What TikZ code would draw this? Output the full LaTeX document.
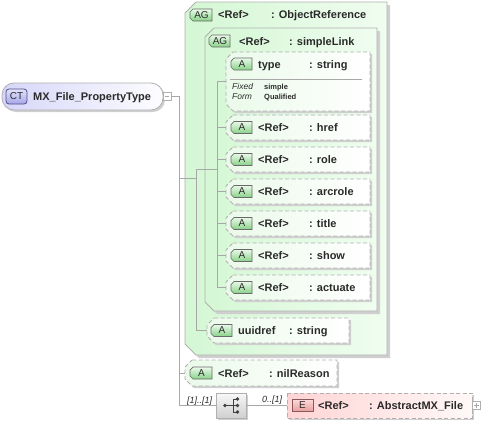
\documentclass[tikz,border=0pt]{standalone}
\usepackage{fontspec}
\setmainfont{Liberation Sans}
\usetikzlibrary{calc}
\definecolor{lineC}{HTML}{A8A8A8}
\definecolor{bordC}{HTML}{B0B0B0}
\definecolor{shadC}{HTML}{CFCFCF}
\definecolor{txtC}{HTML}{2A2A2A}
\definecolor{grpL}{HTML}{D4F7D4}
\definecolor{grpR}{HTML}{F0FDF0}
\definecolor{attL}{HTML}{EAFAEA}
\definecolor{badgeT}{HTML}{EAF9EA}
\definecolor{badgeB}{HTML}{88D288}
\definecolor{badgeD}{HTML}{6A6A6A}
\definecolor{elL}{HTML}{FFD4D4}
\definecolor{elR}{HTML}{FFF8F8}
\definecolor{ebT}{HTML}{FCD8D8}
\definecolor{ebB}{HTML}{E89C9C}
\definecolor{ebD}{HTML}{8A5A5A}
\definecolor{ctL}{HTML}{D6D6FA}
\definecolor{ctR}{HTML}{FDFDFF}
\definecolor{ctbT}{HTML}{E2E2FC}
\definecolor{ctbB}{HTML}{A6A6EA}
\definecolor{ctbD}{HTML}{505080}
\definecolor{seqT}{HTML}{F8F8F8}
\definecolor{seqB}{HTML}{CFCFCF}

\tikzset{
  conn/.style={draw=lineC, line width=0.8pt},
  lbl/.style={anchor=base west, inner sep=0pt, font=\fontsize{11}{13}\selectfont\bfseries, text=txtC},
  smallb/.style={anchor=base west, inner sep=0pt, font=\fontsize{7.5}{9}\selectfont\bfseries, text=txtC},
  smallit/.style={anchor=base west, inner sep=0pt, font=\fontsize{8.5}{10}\selectfont\itshape, text=txtC},
  card/.style={anchor=base west, inner sep=0pt, font=\fontsize{9}{10}\selectfont\itshape, text=txtC},
  badgetxt/.style={inner sep=0pt, font=\fontsize{10}{12}\selectfont, text=txtC},
  hold/.style={draw=none, inner sep=0pt, outer sep=0pt, rectangle},
  dashbox/.style={draw=bordC, line width=0.8pt, dash pattern=on 4pt off 2.5pt},
}

% group box: name x1 y1 x2 y2 chamfer
\newcommand\grpbox[6]{%
  \path[fill=shadC, shift={(3,3)}] ({#2+#6},#3) -- (#4,#3) -- (#4,#5) -- ({#2+#6},#5) -- (#2,{#5-#6}) -- (#2,{#3+#6}) -- cycle;
  \path[left color=grpL, right color=grpR, draw=bordC, line width=0.8pt] ({#2+#6},#3) -- (#4,#3) -- (#4,#5) -- ({#2+#6},#5) -- (#2,{#5-#6}) -- (#2,{#3+#6}) -- cycle;
  \node[hold, minimum width={(#4-#2)*1pt}, minimum height={(#5-#3)*1pt}] (#1) at ({(#2+#4)/2},{(#3+#5)/2}) {};
}
% attribute box: name x1 y1 x2 y2
\newcommand\attrbox[5]{%
  \path[fill=shadC, shift={(2,2)}] ({#2+7},#3) -- (#4,#3) -- (#4,#5) -- ({#2+7},#5) -- (#2,{#5-7}) -- (#2,{#3+7}) -- cycle;
  \path[left color=attL, right color=white, dashbox] ({#2+7},#3) -- (#4,#3) -- (#4,#5) -- ({#2+7},#5) -- (#2,{#5-7}) -- (#2,{#3+7}) -- cycle;
  \node[hold, minimum width={(#4-#2)*1pt}, minimum height={(#5-#3)*1pt}] (#1) at ({(#2+#4)/2},{(#3+#5)/2}) {};
}
% badge: name x1 y1 x2 y2 text topcolor bottomcolor drawcolor
\newcommand\badge[9]{%
  \path[top color=#7, bottom color=#8, draw=#9, line width=0.7pt] ({#2+3},#3) -- (#4,#3) -- (#4,#5) -- ({#2+3},#5) -- (#2,{#5-3}) -- (#2,{#3+3}) -- cycle;
  \node[badgetxt] (#1) at ({(#2+#4)/2+0.5},{(#3+#5)/2}) {#6};
}

\begin{document}
\begin{tikzpicture}[x=1pt,y=-1pt]
\useasboundingbox (0,0) rectangle (481,423);

% ---------- complex type ----------
\path[fill=shadC, rounded corners=12pt] (4,85) rectangle (165,112);
\path[left color=ctL, right color=ctR, draw=bordC, line width=0.8pt, rounded corners=12pt] (2,83) rectangle (163,110);
\node[hold, minimum width=161pt, minimum height=27pt] (ct) at (82.5,96.5) {};
\path[top color=ctbT, bottom color=ctbB, draw=ctbD, line width=0.8pt, rounded corners=3pt] (6,89) rectangle (27,104);
\node[badgetxt] (ctbadge) at (16.5,96.5) {CT};
\node[lbl] (ctname) at (33,100.5) {MX\_File\_PropertyType};
\node[hold, draw=bordC, fill=white, line width=0.7pt, minimum size=8pt] (ctminus) at (167,96.5) {};
\draw[lineC, line width=0.8pt] ([xshift=2pt]ctminus.west) -- ([xshift=-2pt]ctminus.east);

% ---------- outer attribute group ----------
\grpbox{og}{185}{2}{387}{355}{11}
\badge{ogb}{190}{9}{212}{21}{AG}{badgeT}{badgeB}{badgeD}
\node[lbl] (ogref) at (218,18.5) {<Ref>};
\node[lbl] (ogtype) at (271,18.5) {: ObjectReference};

% ---------- inner attribute group ----------
\grpbox{ig}{205}{28}{377}{311}{9}
\badge{igb}{209}{35}{230}{47}{AG}{badgeT}{badgeB}{badgeD}
\node[lbl] (igref) at (239,45) {<Ref>};
\node[lbl] (igtype) at (289,45) {: simpleLink};

% ---------- type attribute ----------
\attrbox{atype}{226}{52}{370}{111}
\badge{atypeb}{231}{58}{252}{70}{A}{badgeT}{badgeB}{badgeD}
\node[lbl] (atypen) at (258,68) {type};
\node[lbl] (atypet) at (309,68) {: string};
\draw[lineC, line width=0.8pt] (230,79) -- (362,79);
\node[smallit] (fixedl) at (232,89.5) {Fixed};
\node[smallit] (forml) at (232,99.5) {Form};
\node[smallb] (fixedv) at (264,89) {simple};
\node[smallb] (formv) at (264,99) {Qualified};

% ---------- simple attributes ----------
\foreach \nm/\yy/\tp in {ahref/115/href, arole/147/role, aarcrole/179/arcrole, atitle/211/title, ashow/243/show, aactuate/275/actuate}{
  \attrbox{\nm}{226}{\yy}{370}{\yy+25}
  \badge{\nm b}{231}{\yy+6.5}{252}{\yy+18.5}{A}{badgeT}{badgeB}{badgeD}
  \node[lbl] (\nm r) at (258,\yy+16.5) {<Ref>};
  \node[lbl] (\nm t) at (309,\yy+16.5) {: \tp};
}

% ---------- uuidref ----------
\attrbox{auuid}{207}{318}{349}{343}
\badge{auuidb}{211}{324.5}{232}{336.5}{A}{badgeT}{badgeB}{badgeD}
\node[lbl] (auuidn) at (238,334.5) {uuidref};
\node[lbl] (auuidt) at (289,334.5) {: string};

% ---------- nilReason ----------
\attrbox{anil}{185}{360}{337}{386}
\badge{anilb}{190}{367}{212}{379}{A}{badgeT}{badgeB}{badgeD}
\node[lbl] (aniln) at (218,377) {<Ref>};
\node[lbl] (anilt) at (269,377) {: nilReason};

% ---------- sequence ----------
\path[fill=shadC] (218,395) rectangle (248,420);
\path[top color=seqT, bottom color=seqB, draw=bordC, line width=0.8pt] (216,393) rectangle (246,418);
\node[hold, minimum width=30pt, minimum height=25pt] (seq) at (231,405.5) {};
\draw[black!75, line width=0.8pt] (225,405.5) -- (233,405.5);
\draw[black!75, line width=0.8pt] (233,399) -- (233,412) (233,399) -- (237,399) (233,405.5) -- (237,405.5) (233,412) -- (237,412);
\foreach \px/\py in {225/405.5, 237.5/399, 237.5/405.5, 237.5/412}{\fill[black!75] (\px,\py) circle (1.9);}
\node[card] (card1) at (187,403) {[1]..[1]};
\node[card] (card2) at (262,402) {0..[1]};

% ---------- element ----------
\path[fill=shadC] (289,395) rectangle (474,420);
\path[left color=elL, right color=elR, dashbox] (287,393) rectangle (472,418);
\node[hold, minimum width=185pt, minimum height=25pt] (elem) at (379.5,405.5) {};
\path[top color=ebT, bottom color=ebB, draw=ebD, line width=0.7pt] (292,399.5) rectangle (313,411.5);
\node[badgetxt] (elemb) at (302.5,405.5) {E};
\node[lbl] (elemr) at (318,409.5) {<Ref>};
\node[lbl] (elemt) at (369,409.5) {: AbstractMX\_File};
\node[hold, draw=bordC, fill=white, line width=0.6pt, minimum size=8pt] (eplus) at (476.5,405.5) {};
\draw[lineC, line width=0.7pt] ([xshift=1.8pt]eplus.west) -- ([xshift=-1.8pt]eplus.east) ([yshift=-1.8pt]eplus.north) -- ([yshift=1.8pt]eplus.south);

% ---------- connectors ----------
\coordinate (j1) at (179,96.5);
\coordinate (j2) at (179,178);
\coordinate (ogt) at (196,169);
\coordinate (igt) at (217,169);
\draw[conn] (ctminus.east) -- (j1) -- (j1 |- seq.west) -- (seq.west);
\draw[conn] (j2) -- (j2 -| ogt);
\draw[conn] (ogt) |- (auuid.west);
\draw[conn] (ogt) -- (igt);
\draw[conn] (atype.west -| igt) -- (aactuate.west -| igt);
\foreach \nm in {atype, ahref, arole, aarcrole, atitle, ashow, aactuate}{
  \draw[conn] (\nm.west -| igt) -- (\nm.west);
}
\draw[conn] (anil.west -| j1) -- (anil.west);
\draw[conn] (seq.east) -- (elem.west);
\end{tikzpicture}
\end{document}
